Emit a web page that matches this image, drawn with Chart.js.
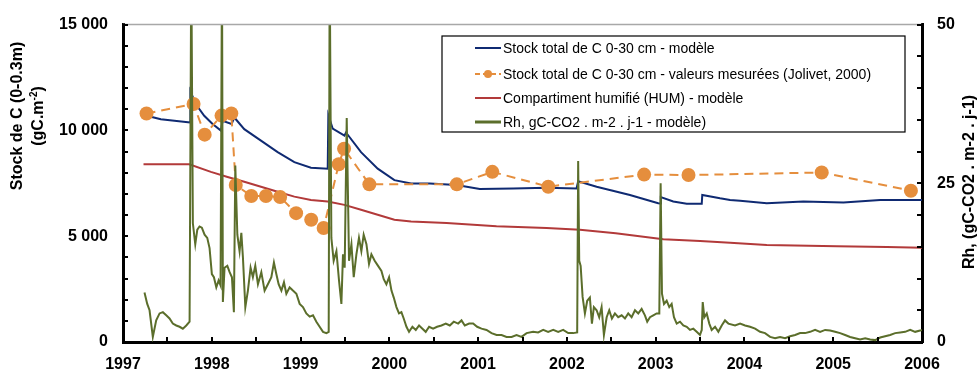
<!DOCTYPE html>
<html>
<head>
<meta charset="utf-8">
<script src="https://cdn.jsdelivr.net/npm/chart.js@4.4.0/dist/chart.umd.min.js"></script>
<style>
  html, body { margin: 0; padding: 0; background: #fff; }
  #wrap { width: 980px; height: 374px; }
</style>
</head>
<body>
<div id="wrap"><canvas id="chart" width="980" height="374"></canvas></div>
<script>
// Stock total de C 0-30 cm - modèle (gC.m-2)
const stockYears = [1997.268, 1997.426, 1997.758, 1997.759, 1997.821, 1997.915, 1998.009, 1998.103, 1998.122, 1998.223,
  1998.254, 1998.366, 1998.554, 1998.742, 1998.930, 1999.117, 1999.306, 1999.313, 1999.362, 1999.494, 1999.512,
  1999.681, 1999.869, 2000.057, 2000.245, 2000.455, 2000.757, 2001.019, 2001.395, 2001.771, 2002.109, 2002.127,
  2002.335, 2002.710, 2003.029, 2003.054, 2003.058, 2003.198, 2003.350, 2003.519, 2003.525, 2003.725, 2003.838,
  2003.951, 2004.251, 2004.664, 2005.115, 2005.529, 2006.0];
const stockModel = [10690, 10530, 10370, 11850, 11230, 10690, 10300, 9990, 10450, 10300,
  10610, 10060, 9520, 8970, 8500, 8240, 8190, 10720, 10090, 9750, 9900,
  8970, 8190, 7650, 7490, 7490, 7420, 7230, 7260, 7290, 7260, 7600,
  7340, 6950, 6560, 6540, 6850, 6640, 6530, 6530, 6950, 6790, 6715,
  6670, 6560, 6640, 6590, 6715, 6715];

// Stock total de C 0-30 cm - valeurs mesurées (Jolivet, 2000)
const measYears = [1997.265, 1997.795, 1997.920, 1998.110, 1998.220, 1998.270, 1998.445, 1998.610, 1998.770,
  1998.950, 1999.120, 1999.260, 1999.430, 1999.490, 1999.775, 2000.760, 2001.160, 2001.790, 2002.870,
  2003.370, 2004.870, 2005.875];
const measValues = [10800, 11250, 9800, 10700, 10800, 7420, 6900, 6900, 6850,
  6090, 5780, 5390, 8400, 9130, 7450, 7450, 8040, 7340, 7910,
  7890, 8010, 7150];

// Compartiment humifié (HUM) - modèle
const humYears = [1997.231, 1997.746, 1997.990, 1998.178, 1998.366, 1998.554, 1998.742, 1998.930, 1999.117,
  1999.306, 1999.494, 1999.681, 1999.869, 2000.057, 2000.245, 2000.644, 2001.207, 2001.771, 2002.147,
  2002.550, 2003.086, 2003.500, 2003.838, 2004.251, 2005.041, 2005.604, 2006.0];
const humModel = [8400, 8400, 8040, 7800, 7570, 7340, 7100, 6870, 6710,
  6640, 6480, 6250, 6010, 5780, 5700, 5620, 5470, 5390, 5310,
  5140, 4860, 4770, 4690, 4580, 4530, 4490, 4450];

// Rh, gC-CO2 . m-2 . j-1 - modèle
const rhYears = [1997.242, 1997.273, 1997.299, 1997.336, 1997.374, 1997.412, 1997.449, 1997.487, 1997.524, 1997.561,
  1997.600, 1997.637, 1997.674, 1997.713, 1997.750, 1997.769, 1997.787, 1997.814, 1997.837, 1997.862,
  1997.888, 1997.919, 1997.949, 1997.975, 1998.001, 1998.024, 1998.051, 1998.077, 1998.099, 1998.115,
  1998.125, 1998.144, 1998.175, 1998.201, 1998.227, 1998.249, 1998.265, 1998.288, 1998.313, 1998.333,
  1998.351, 1998.378, 1998.407, 1998.437, 1998.463, 1998.490, 1998.520, 1998.558, 1998.595, 1998.632,
  1998.671, 1998.700, 1998.727, 1998.753, 1998.784, 1998.813, 1998.840, 1998.877, 1998.914, 1998.953,
  1998.990, 1999.027, 1999.065, 1999.103, 1999.140, 1999.178, 1999.215, 1999.253, 1999.291, 1999.317,
  1999.328, 1999.347, 1999.373, 1999.404, 1999.433, 1999.460, 1999.478, 1999.497, 1999.520, 1999.546,
  1999.573, 1999.599, 1999.629, 1999.658, 1999.685, 1999.711, 1999.742, 1999.771, 1999.798, 1999.835,
  1999.873, 1999.911, 1999.937, 1999.967, 1999.997, 2000.024, 2000.050, 2000.080, 2000.109, 2000.136,
  2000.162, 2000.193, 2000.222, 2000.260, 2000.298, 2000.335, 2000.373, 2000.410, 2000.448, 2000.493,
  2000.538, 2000.587, 2000.636, 2000.681, 2000.726, 2000.775, 2000.813, 2000.850, 2000.899, 2000.944,
  2000.989, 2001.038, 2001.095, 2001.151, 2001.208, 2001.264, 2001.320, 2001.377, 2001.433, 2001.489,
  2001.546, 2001.620, 2001.676, 2001.733, 2001.789, 2001.846, 2001.902, 2001.958, 2002.015, 2002.071,
  2002.116, 2002.127, 2002.139, 2002.155, 2002.177, 2002.203, 2002.229, 2002.259, 2002.282, 2002.304,
  2002.335, 2002.364, 2002.391, 2002.417, 2002.448, 2002.477, 2002.507, 2002.541, 2002.578, 2002.617,
  2002.654, 2002.691, 2002.729, 2002.767, 2002.804, 2002.842, 2002.879, 2002.905, 2002.936, 2002.973,
  2003.011, 2003.041, 2003.056, 2003.071, 2003.094, 2003.124, 2003.153, 2003.180, 2003.206, 2003.237,
  2003.274, 2003.311, 2003.350, 2003.387, 2003.424, 2003.462, 2003.499, 2003.519, 2003.530, 2003.548,
  2003.575, 2003.604, 2003.631, 2003.669, 2003.706, 2003.744, 2003.781, 2003.819, 2003.894, 2003.951,
  2004.007, 2004.063, 2004.120, 2004.176, 2004.232, 2004.289, 2004.345, 2004.401, 2004.458, 2004.514,
  2004.571, 2004.627, 2004.683, 2004.740, 2004.796, 2004.852, 2004.909, 2004.965, 2005.021, 2005.078,
  2005.134, 2005.190, 2005.247, 2005.303, 2005.360, 2005.416, 2005.472, 2005.529, 2005.585, 2005.641,
  2005.698, 2005.754, 2005.810, 2005.867, 2005.923, 2005.979, 2006.0];
const rhValues = [7.8, 6.0, 5.0, 0.8, 3.4, 4.5, 4.7, 4.2, 3.7, 2.9,
  2.6, 2.4, 2.1, 2.6, 3.2, 60, 18.7, 15.4, 17.7, 18.2,
  18.0, 16.9, 16.4, 14.8, 10.7, 10.2, 8.6, 9.7, 8.9, 60,
  6.3, 11.7, 12.0, 11.0, 10.2, 4.7, 27.8, 16.9, 14.3, 17.2,
  13.3, 5.5, 8.1, 11.7, 10.2, 12.0, 9.1, 11.0, 8.1, 9.1,
  10.2, 12.5, 10.7, 9.1, 8.1, 9.4, 7.6, 8.6, 8.1, 7.6,
  6.0, 5.5, 4.5, 4.0, 4.2, 3.2, 2.4, 1.6, 1.4, 1.6,
  60, 16.4, 12.8, 14.3, 9.7, 6.0, 13.8, 11.7, 35.3, 12.8,
  15.4, 10.2, 13.8, 16.4, 14.3, 16.9, 15.4, 12.3, 13.8, 12.8,
  12.0, 11.2, 9.9, 9.1, 10.2, 8.1, 7.0, 5.5, 4.5, 4.7,
  3.7, 2.4, 1.6, 2.4, 1.9, 2.6, 2.1, 1.6, 2.4, 2.1,
  2.4, 2.6, 2.9, 2.6, 3.2, 2.9, 3.4, 2.6, 2.9, 2.9,
  2.4, 2.1, 1.9, 1.4, 1.1, 1.1, 0.8, 0.8, 1.1, 0.8,
  1.4, 1.6, 1.5, 1.9, 1.6, 1.9, 1.6, 1.9, 1.4, 1.4,
  1.5, 28.5, 12.8, 12.0, 7.1, 4.5, 6.5, 7.0, 2.9, 5.5,
  5.0, 3.9, 5.5, 1.1, 3.9, 5.0, 3.7, 4.5, 3.9, 4.2,
  3.7, 4.5, 3.9, 5.0, 4.5, 5.2, 4.2, 3.2, 3.9, 4.2,
  4.5, 4.5, 25.0, 7.6, 6.0, 6.5, 5.5, 6.0, 3.9, 2.9,
  3.2, 2.6, 2.4, 1.9, 2.1, 1.6, 1.1, 1.9, 6.3, 3.9,
  4.5, 2.9, 1.9, 2.4, 1.6, 2.6, 3.4, 2.9, 2.6, 2.9,
  2.6, 2.4, 2.1, 1.6, 1.4, 0.8, 0.6, 0.8, 0.6, 0.9,
  1.1, 1.4, 1.4, 1.6, 1.9, 1.6, 1.9, 1.8, 1.6, 1.4,
  1.1, 0.8, 0.6, 0.4, 0.6, 0.4, 0.3, 0.7, 0.9, 1.1,
  1.4, 1.5, 1.6, 1.9, 1.6, 1.8, 1.9];

// axis ranges
const xMin = 1997, xMax = 2006;
const stockMax = 15000, rhMax = 50;

const seriesLabels = [
  'Stock total de C 0-30 cm - modèle',
  'Stock total de C 0-30 cm - valeurs mesurées (Jolivet, 2000)',
  'Compartiment humifié (HUM) - modèle',
  'Rh, gC-CO2 . m-2 . j-1 - modèle)'
];

const FONT = '"Liberation Sans", Arial, Helvetica, sans-serif';
const BLUE = '#0f2a72';
const ORANGE = '#e58e3d';
const RED = '#b23a3a';
const GREEN = '#5b6e2b';

const toPoints = (xs, ys) => xs.map((x, i) => ({ x: x, y: ys[i] }));
const spaced = (v) => String(v).replace(/\B(?=(\d{3})+(?!\d))/g, ' ');

// axis frame, inward ticks, rotated titles and the boxed legend
const decorations = {
  id: 'decorations',
  afterDraw(chart) {
    const { ctx, chartArea: a, scales } = chart;
    const seg = (x1, y1, x2, y2) => { ctx.beginPath(); ctx.moveTo(x1, y1); ctx.lineTo(x2, y2); ctx.stroke(); };
    ctx.save();

    ctx.strokeStyle = '#a8a8a8';
    ctx.lineWidth = 1.5;
    seg(a.left, a.top, a.right, a.top);

    ctx.strokeStyle = '#000';
    ctx.lineWidth = 2;
    scales.y.ticks.forEach(t => {
      const py = Math.round(scales.y.getPixelForValue(t.value));
      seg(a.left, py, a.left + 5, py);
    });
    scales.y2.ticks.forEach(t => {
      const py = Math.round(scales.y2.getPixelForValue(t.value));
      seg(a.right - 5, py, a.right, py);
    });
    scales.x.ticks.forEach(t => {
      const px = Math.round(scales.x.getPixelForValue(t.value));
      seg(px, a.bottom - 5, px, a.bottom);
    });

    // axis titles
    ctx.fillStyle = '#000';
    ctx.textBaseline = 'middle';
    ctx.font = 'bold 16px ' + FONT;
    ctx.save();
    ctx.translate(18, 116);
    ctx.rotate(-Math.PI / 2);
    ctx.textAlign = 'center';
    ctx.fillText('Stock de C (0-0.3m)', 0, 0);
    ctx.restore();

    ctx.save();
    ctx.translate(39, 116);
    ctx.rotate(-Math.PI / 2);
    ctx.textAlign = 'left';
    const p1 = '(gC.m', sup = '-2', p2 = ')';
    ctx.font = 'bold 16px ' + FONT;
    const w1 = ctx.measureText(p1).width, w3 = ctx.measureText(p2).width;
    ctx.font = 'bold 10px ' + FONT;
    const w2 = ctx.measureText(sup).width;
    let cx = -(w1 + w2 + w3) / 2;
    ctx.font = 'bold 16px ' + FONT;
    ctx.fillText(p1, cx, 0);
    cx += w1;
    ctx.font = 'bold 10px ' + FONT;
    ctx.fillText(sup, cx, -5);
    cx += w2;
    ctx.font = 'bold 16px ' + FONT;
    ctx.fillText(p2, cx, 0);
    ctx.restore();

    ctx.save();
    ctx.translate(970, 182);
    ctx.rotate(-Math.PI / 2);
    ctx.textAlign = 'center';
    ctx.fillText('Rh, (gC-CO2 . m-2 . j-1)', 0, 0);
    ctx.restore();

    // legend
    const box = { x: 442, y: 36, w: 463, h: 96 };
    ctx.fillStyle = '#fff';
    ctx.fillRect(box.x, box.y, box.w, box.h);
    ctx.strokeStyle = '#000';
    ctx.lineWidth = 1.2;
    ctx.strokeRect(box.x, box.y, box.w, box.h);

    const rows = [48, 74, 98, 122];
    const styles = [
      { color: BLUE, width: 2 },
      { color: ORANGE, width: 2, dash: [5, 3], dot: true },
      { color: RED, width: 2 },
      { color: GREEN, width: 3 }
    ];
    ctx.font = '14px ' + FONT;
    ctx.textAlign = 'left';
    rows.forEach((ry, i) => {
      const s = styles[i];
      ctx.strokeStyle = s.color;
      ctx.lineWidth = s.width;
      ctx.setLineDash(s.dash || []);
      seg(475, ry, 501, ry);
      ctx.setLineDash([]);
      if (s.dot) {
        ctx.fillStyle = s.color;
        ctx.beginPath();
        ctx.arc(488, ry, 4, 0, Math.PI * 2);
        ctx.fill();
      }
      ctx.fillStyle = '#000';
      ctx.fillText(seriesLabels[i], 503, ry + 1);
    });

    ctx.restore();
  }
};

const tickFont = { family: FONT, size: 16, weight: 'bold' };

new Chart(document.getElementById('chart'), {
  type: 'line',
  data: {
    datasets: [
      {
        label: seriesLabels[3],
        data: toPoints(rhYears, rhValues),
        yAxisID: 'y2',
        borderColor: GREEN,
        borderWidth: 2,
        pointRadius: 0,
        tension: 0,
        clip: 0,
        order: 0
      },
      {
        label: seriesLabels[1],
        data: toPoints(measYears, measValues),
        yAxisID: 'y',
        borderColor: ORANGE,
        backgroundColor: ORANGE,
        borderWidth: 2,
        borderDash: [9, 6],
        pointRadius: 7,
        pointBorderWidth: 0,
        pointBackgroundColor: ORANGE,
        tension: 0,
        order: 1
      },
      {
        label: seriesLabels[0],
        data: toPoints(stockYears, stockModel),
        yAxisID: 'y',
        borderColor: BLUE,
        borderWidth: 2,
        pointRadius: 0,
        tension: 0,
        order: 2
      },
      {
        label: seriesLabels[2],
        data: toPoints(humYears, humModel),
        yAxisID: 'y',
        borderColor: RED,
        borderWidth: 2,
        pointRadius: 0,
        tension: 0,
        order: 3
      }
    ]
  },
  options: {
    responsive: false,
    animation: false,
    events: [],
    layout: { padding: { top: 21, left: 0, right: 0, bottom: 0 } },
    plugins: { legend: { display: false }, tooltip: { enabled: false } },
    scales: {
      x: {
        type: 'linear',
        min: xMin,
        max: xMax,
        grid: { display: false, drawTicks: false },
        border: { display: true, color: '#000', width: 3 },
        ticks: {
          stepSize: 0.5,
          autoSkip: false,
          maxRotation: 0,
          padding: 13,
          color: '#000',
          font: tickFont,
          callback: (v) => Number.isInteger(v) ? String(v) : ''
        },
        afterFit: (s) => { s.height = 32; }
      },
      y: {
        position: 'left',
        min: 0,
        max: stockMax,
        grid: { display: false, drawTicks: false },
        border: { display: true, color: '#000', width: 3 },
        ticks: {
          stepSize: 1000,
          autoSkip: false,
          padding: 15,
          color: '#000',
          font: tickFont,
          callback: (v) => v % 5000 === 0 ? spaced(v) : ''
        },
        afterFit: (s) => { s.width = 123; }
      },
      y2: {
        position: 'right',
        min: 0,
        max: rhMax,
        grid: { display: false, drawTicks: false },
        border: { display: true, color: '#000', width: 3 },
        ticks: {
          stepSize: 5,
          autoSkip: false,
          padding: 15,
          color: '#000',
          font: tickFont,
          callback: (v) => v % 25 === 0 ? String(v) : ''
        },
        afterFit: (s) => { s.width = 58; }
      }
    }
  },
  plugins: [decorations]
});
</script>
</body>
</html>
